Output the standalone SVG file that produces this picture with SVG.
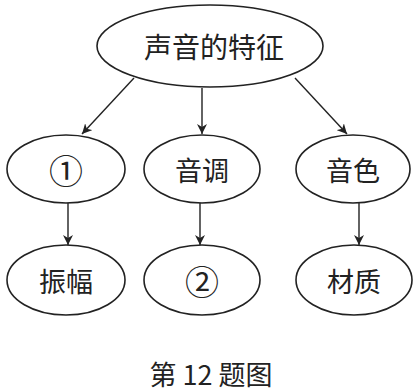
<svg xmlns="http://www.w3.org/2000/svg" width="419" height="391" viewBox="0 0 419 391">
<defs>
<marker id="ah" viewBox="0 0 10 10" refX="10" refY="5" markerWidth="10" markerHeight="10" markerUnits="userSpaceOnUse" orient="auto">
<path d="M0,0 L10,5 L0,10 L3,5 Z" fill="#222"/>
</marker>
<style>
.n ellipse{fill:#fff;stroke:#222;stroke-width:1.6}
.n text,.cap{font-family:"Noto Sans CJK SC","Liberation Serif",serif;fill:#222;text-anchor:middle;dominant-baseline:central}
.e line{stroke:#222;stroke-width:1.4;marker-end:url(#ah)}
</style>
</defs>
<rect width="419" height="391" fill="#fff"/>
<g id="edges" class="e">
<line x1="134" y1="78" x2="82" y2="134"/>
<line x1="202" y1="88" x2="202" y2="134"/>
<line x1="295" y1="78" x2="347" y2="134"/>
<line x1="68" y1="203" x2="68" y2="245"/>
<line x1="200" y1="203" x2="200" y2="245"/>
<line x1="359" y1="203" x2="359" y2="245"/>
</g>
<g id="root" class="n"><ellipse cx="210" cy="46" rx="113" ry="41"/><text x="214" y="46" font-size="28">声音的特征</text></g>
<g id="n1" class="n"><ellipse cx="66" cy="169" rx="59" ry="34"/><text x="66" y="169" font-size="34">①</text></g>
<g id="n2" class="n"><ellipse cx="202" cy="169" rx="58" ry="34"/><text x="202" y="169" font-size="27">音调</text></g>
<g id="n3" class="n"><ellipse cx="353" cy="169" rx="57" ry="34"/><text x="353" y="169" font-size="27">音色</text></g>
<g id="n4" class="n"><ellipse cx="66" cy="280" rx="59" ry="35"/><text x="66" y="280" font-size="27">振幅</text></g>
<g id="n5" class="n"><ellipse cx="202" cy="280" rx="58" ry="35"/><text x="202" y="280" font-size="34">②</text></g>
<g id="n6" class="n"><ellipse cx="354" cy="280" rx="58" ry="35"/><text x="354" y="280" font-size="27">材质</text></g>
<text class="cap" x="211" y="373" font-size="27">第 12 题图</text>
</svg>
